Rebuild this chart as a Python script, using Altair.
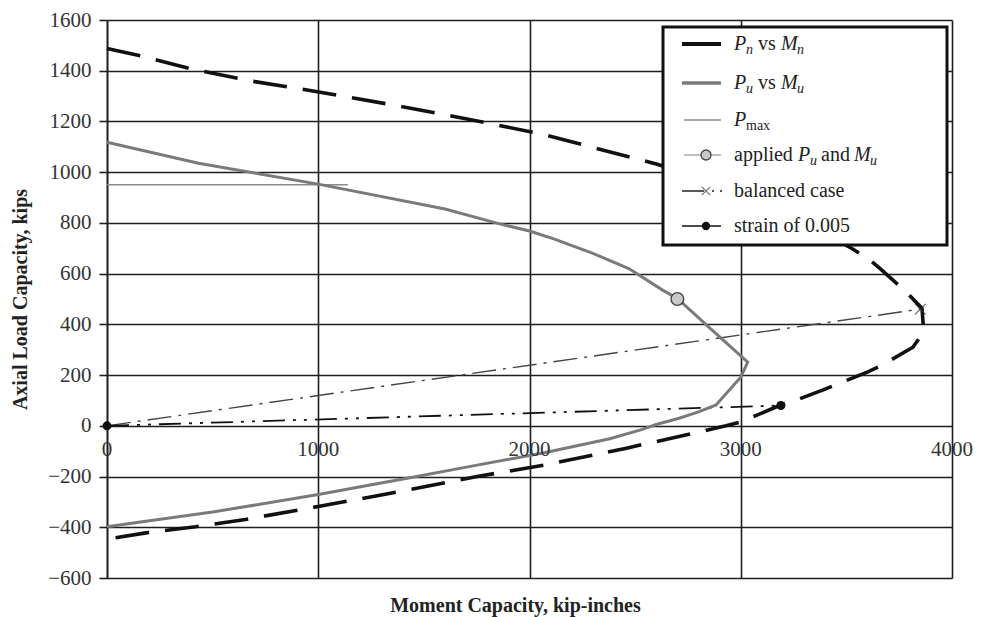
import altair as alt
import pandas as pd

FONT = "Liberation Serif"
W, H = 845, 558

# ---- data (kip-inches, kips) ----
pn_m = [0, 160, 400, 700, 940, 1100, 1340, 1575, 1810, 2044, 2280, 2515, 2600, 2850, 3100, 3300,
        3528, 3603, 3660, 3787, 3858, 3864, 3848, 3815, 3669, 3599, 3448, 3387, 3227, 3189, 3000,
        2930, 2774, 2459, 2068, 1752, 1361, 1000, 655, 419, 184, 0]
pn_p = [1488, 1459, 1407, 1357, 1325, 1302, 1267, 1231, 1192, 1153, 1102, 1051, 1032, 970, 895, 805,
        698, 659, 620, 525, 463, 396, 349, 310, 239, 212, 161, 141, 90, 82, 15,
        0, -30, -88, -155, -200, -263, -318, -369, -398, -422, -447]

pu_m = [0, 433, 1000, 1600, 1850, 2000, 2115, 2300, 2470, 2630, 2700, 2850, 3033, 3000, 2883,
        2800, 2708, 2600, 2530, 2380, 2070, 1752, 1440, 1000, 500, 184, 0]
pu_p = [1118, 1035, 953, 855, 798, 768, 737, 680, 620, 535, 502, 388, 251, 192, 82,
        55, 30, 5, -15, -51, -106, -155, -204, -271, -340, -376, -398]

pmax_m = [0, 1140]
pmax_p = [950, 950]

bal_m = [0, 3850]
bal_p = [0, 460]

strain_m = [0, 3190]
strain_p = [0, 80]

applied_m = [2700]
applied_p = [500]

x_ticks = [0, 1000, 2000, 3000, 4000]
y_ticks = [-600, -400, -200, 0, 200, 400, 600, 800, 1000, 1200, 1400, 1600]


def line_df(ms, ps):
    return pd.DataFrame({"M": ms, "P": ps, "i": list(range(len(ms)))})


xs = alt.Scale(domain=[0, 4000], nice=False, zero=False)
ys = alt.Scale(domain=[-600, 1600], nice=False, zero=False)

GRID = "#1e1e1e"
xaxis = alt.Axis(values=x_ticks, grid=True, gridColor=GRID, gridWidth=1.6, labels=False,
                 ticks=False, domain=False, title="Moment Capacity, kip-inches",
                 titleFont=FONT, titleFontSize=20, titleFontWeight="bold", titleColor="#222",
                 titleX=408, titleY=33, titleBaseline="alphabetic")
yaxis = alt.Axis(values=y_ticks, grid=True, gridColor=GRID, gridWidth=1.6, format="d",
                 tickSize=8, tickColor=GRID, tickWidth=1.6, domain=True, domainColor=GRID,
                 domainWidth=1.6, labelFont=FONT, labelFontSize=21, labelColor="#333",
                 labelPadding=8, labelFlush=False, labelOverlap=False,
                 title="Axial Load Capacity, kips", titleFont=FONT, titleFontSize=20,
                 titleFontWeight="bold", titleColor="#222", titlePadding=17)

X = alt.X("M:Q", scale=xs, axis=xaxis)
Y = alt.Y("P:Q", scale=ys, axis=yaxis)


def curve(ms, ps, **mk):
    return alt.Chart(line_df(ms, ps)).mark_line(**mk).encode(x=X, y=Y, order=alt.Order("i:Q"))


pmax = curve(pmax_m, pmax_p, color="#8a8a8a", strokeWidth=1.5)
bal = curve(bal_m, bal_p, color="#444444", strokeWidth=1.4, strokeDash=[24, 7, 3, 7])
strain = curve(strain_m, strain_p, color="#111111", strokeWidth=1.8, strokeDash=[22, 8, 3, 8, 3, 8])
pu = curve(pu_m, pu_p, color="#7a7a7a", strokeWidth=3)
pn = curve(pn_m, pn_p, color="#111111", strokeWidth=3.6, strokeDash=[34, 16])

xlab = alt.Chart(pd.DataFrame({"M": x_ticks, "P": [0] * len(x_ticks),
                               "t": [str(v) for v in x_ticks]})).mark_text(
    align="center", baseline="middle", dy=24, font=FONT, fontSize=21, color="#333").encode(
    x=X, y=Y, text="t:N")

X_PATH = "M-1,-1L1,1M1,-1L-1,1"
bal_mark = alt.Chart(line_df(bal_m[1:], bal_p[1:])).mark_point(
    shape=X_PATH, filled=False, size=110, strokeWidth=1.3, color="#333").encode(x=X, y=Y)
strain_mark = alt.Chart(line_df(strain_m, strain_p)).mark_point(
    shape="circle", filled=True, size=80, color="#111", opacity=1).encode(x=X, y=Y)
applied = alt.Chart(line_df(applied_m, applied_p)).mark_point(
    shape="circle", filled=True, size=160, fill="#c8c8c8", stroke="#444", strokeWidth=1.4,
    opacity=1).encode(x=X, y=Y)

# ---- manual legend (pixel positions inside plot area) ----
dummy = pd.DataFrame({"d": [0]})
legend_layers = []
box = alt.Chart(dummy).mark_rect(fill="white", stroke="#111", strokeWidth=3).encode(
    x=alt.value(556), x2=alt.value(840), y=alt.value(7), y2=alt.value(225))
legend_layers.append(box)


def seg(x1, x2, y, **mk):
    return alt.Chart(dummy).mark_rule(**mk).encode(x=alt.value(x1), x2=alt.value(x2), y=alt.value(y))


def pt(x, y, **mk):
    return alt.Chart(dummy).mark_point(**mk).encode(x=alt.value(x), y=alt.value(y))


def txt(x, y, s, italic=False, size=20, dy=0):
    return alt.Chart(dummy).mark_text(align="left", baseline="middle", font=FONT, fontSize=size,
                                      fontStyle="italic" if italic else "normal", color="#222",
                                      dy=dy).encode(x=alt.value(x), y=alt.value(y), text=alt.value(s))


rows = [24, 63, 100, 135, 171, 206]
LX1, LX2, LC, TX = 575, 614, 599, 627
legend_layers += [
    seg(LX1, LX2, rows[0], color="#111", strokeWidth=4),
    seg(LX1, LX2, rows[1], color="#7a7a7a", strokeWidth=3.5),
    seg(LX1 + 2, LX2, rows[2], color="#8a8a8a", strokeWidth=1.5),
    seg(LX1 + 2, LX2, rows[3], color="#aaaaaa", strokeWidth=1.5),
    pt(LC, rows[3], shape="circle", filled=True, size=100, fill="#c8c8c8", stroke="#444",
       strokeWidth=1.3, opacity=1),
    seg(LX1, LC - 2, rows[4], color="#222", strokeWidth=1.5),
    pt(LC, rows[4], shape=X_PATH, filled=False, size=70, strokeWidth=1.2, color="#333"),
    seg(LC + 6, LX2 + 4, rows[4], color="#222", strokeWidth=1.5, strokeDash=[2, 6]),
    seg(LX1, LX2, rows[5], color="#111", strokeWidth=1.6),
    pt(LC, rows[5], shape="circle", filled=True, size=70, color="#111", opacity=1),
]

SUB = 14
SDY = 6
# row 1: Pn vs Mn
legend_layers += [
    txt(TX, rows[0], "P", True), txt(TX + 12, rows[0], "n", True, SUB, SDY),
    txt(TX + 24, rows[0], "vs"), txt(TX + 47, rows[0], "M", True),
    txt(TX + 63, rows[0], "n", True, SUB, SDY),
]
# row 2: Pu vs Mu
legend_layers += [
    txt(TX, rows[1], "P", True), txt(TX + 12, rows[1], "u", True, SUB, SDY),
    txt(TX + 24, rows[1], "vs"), txt(TX + 47, rows[1], "M", True),
    txt(TX + 63, rows[1], "u", True, SUB, SDY),
]
# row 3: Pmax
legend_layers += [
    txt(TX, rows[2], "P", True), txt(TX + 12, rows[2], "max", False, SUB, SDY),
]
# row 4: applied Pu and Mu
legend_layers += [
    txt(TX, rows[3], "applied"), txt(TX + 64, rows[3], "P", True),
    txt(TX + 76, rows[3], "u", True, SUB, SDY), txt(TX + 87, rows[3], "and"),
    txt(TX + 120, rows[3], "M", True), txt(TX + 136, rows[3], "u", True, SUB, SDY),
]
legend_layers += [
    txt(TX, rows[4], "balanced case"),
    txt(TX, rows[5], "strain of 0.005"),
]

chart = alt.layer(
    pmax, bal, strain, pu, pn, bal_mark, strain_mark, applied, xlab, *legend_layers
).properties(
    width=W, height=H,
    autosize=alt.AutoSizeParams(type="none"),
    padding={"left": 99, "top": 12, "right": 21, "bottom": 40},
).configure_view(stroke=None).configure(background="white")

chart.save("out.html", embed_options={"renderer": "svg", "actions": False})
